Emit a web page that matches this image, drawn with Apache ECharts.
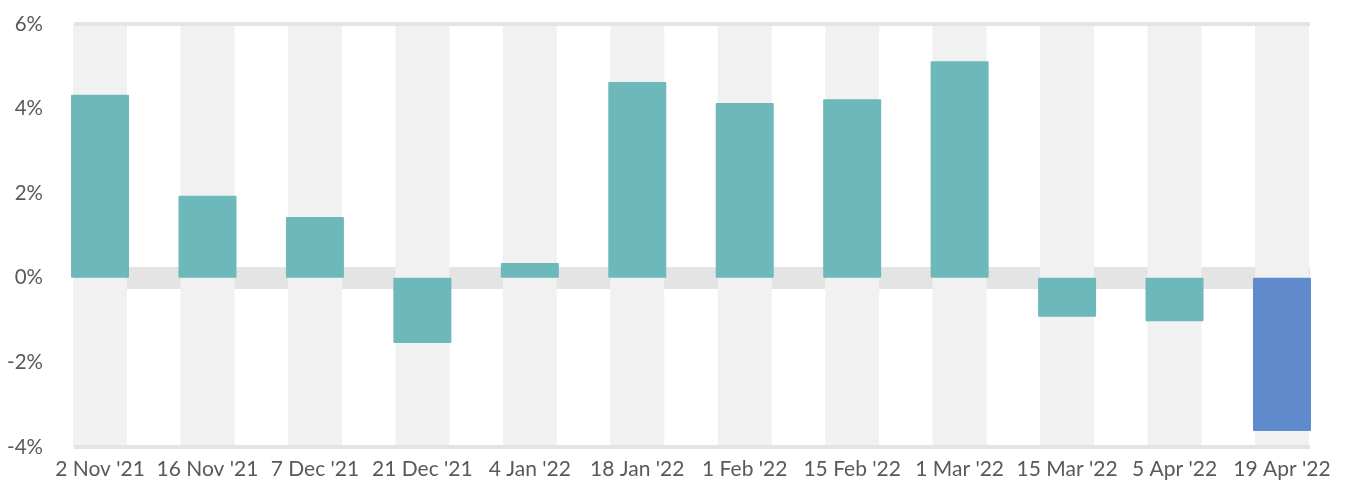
<!DOCTYPE html>
<html>
<head>
<meta charset="utf-8">
<script src="https://cdn.jsdelivr.net/npm/echarts@6/dist/echarts.min.js"></script>
<style>
html,body{margin:0;padding:0;background:#fff;}
#chart{width:1355px;height:490px;}
</style>
</head>
<body>
<div id="chart"></div>
<script>
var categories = ["2 Nov '21","16 Nov '21","7 Dec '21","21 Dec '21","4 Jan '22","18 Jan '22","1 Feb '22","15 Feb '22","1 Mar '22","15 Mar '22","5 Apr '22","19 Apr '22"];
var values = [4.33, 1.94, 1.44, -1.54, 0.35, 4.63, 4.13, 4.22, 5.12, -0.92, -1.03, -3.62];
var highlightIndex = 11;
var yTicks = [-4, -2, 0, 2, 4, 6];
var bandValues = categories.map(function(){ return 1; });

var TEAL = '#6cb8ba', BLUE = '#5f8bcc', BAND = '#f1f1f1', LINE = '#e4e4e4', TEXT = '#595959';
var FONT = 'Lato';

var chart = echarts.init(document.getElementById('chart'));
var barData = values.map(function(v, i){
  return {value: v, itemStyle: {color: i === highlightIndex ? BLUE : TEAL}};
});

chart.setOption({
  animation: false,
  backgroundColor: '#fff',
  grid: [
    {left: 74, right: 45, top: 24, bottom: 43},
    {left: 46.3, right: 19.3, top: 24, bottom: 43}
  ],
  xAxis: [
    {gridIndex: 0, type: 'value', min: 0, max: 1, show: false},
    {gridIndex: 1, type: 'category', data: categories, boundaryGap: true,
     axisLine: {show: false}, axisTick: {show: false},
     axisLabel: {color: TEXT, fontFamily: FONT, fontSize: 21, margin: 12, interval: 0}},
    {gridIndex: 1, type: 'category', data: categories, show: false}
  ],
  yAxis: [
    {gridIndex: 0, type: 'value', min: yTicks[0], max: yTicks[yTicks.length-1], interval: 2,
     axisLine: {show: false}, axisTick: {show: false}, splitLine: {show: false},
     axisLabel: {color: TEXT, fontFamily: FONT, fontSize: 20.5, margin: 31, formatter: '{value}%'}},
    {gridIndex: 1, type: 'value', min: yTicks[0], max: yTicks[yTicks.length-1], show: false},
    {gridIndex: 1, type: 'value', min: 0, max: 1, show: false}
  ],
  series: [
    {type: 'line', xAxisIndex: 0, yAxisIndex: 0, data: [[0, 0]], symbol: 'none',
     lineStyle: {opacity: 0}, silent: true, z: 0,
     markLine: {z: 0, symbol: ['none','none'], silent: true, label: {show: false},
       lineStyle: {color: LINE, width: 22, type: 'solid'}, data: [{yAxis: 0}]}},
    {type: 'bar', xAxisIndex: 2, yAxisIndex: 2, data: bandValues, barWidth: 54,
     itemStyle: {color: BAND}, silent: true, z: 1},
    {type: 'line', xAxisIndex: 0, yAxisIndex: 0, data: [[0, 0]], symbol: 'none',
     lineStyle: {opacity: 0}, silent: true, z: 3,
     markLine: {z: 3, symbol: ['none','none'], silent: true, label: {show: false},
       lineStyle: {color: LINE, width: 4, type: 'solid'},
       data: [{yAxis: yTicks[yTicks.length-1]}, {yAxis: yTicks[0]}]}},
    {type: 'bar', xAxisIndex: 1, yAxisIndex: 1, data: barData, barWidth: 58,
     itemStyle: {borderRadius: 1}, z: 4}
  ]
});
</script>
</body>
</html>
